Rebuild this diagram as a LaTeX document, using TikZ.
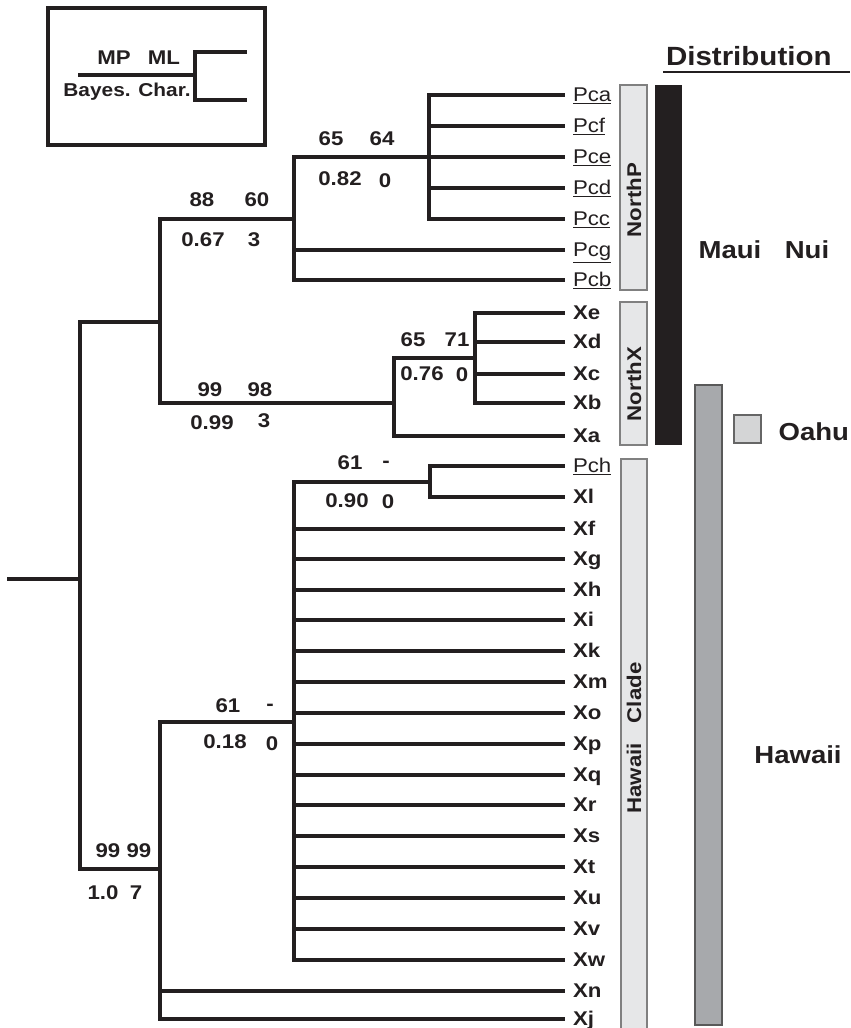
\documentclass[tikz,border=0pt]{standalone}
\usepackage{fontspec}
\setmainfont{Liberation Sans}[FakeStretch=1.12]
\usetikzlibrary{positioning}
\definecolor{ink}{RGB}{35,31,32}
\definecolor{cladegray}{RGB}{230,231,232}
\definecolor{islegray}{RGB}{167,169,172}
\definecolor{oahugray}{RGB}{212,213,214}

\begin{document}
\begin{tikzpicture}[x=0.02cm, y=-0.02cm,
  every node/.style={text=ink, font=\bfseries\fontsize{11.3}{13}\selectfont, inner sep=0pt, outer sep=0pt},
  branch/.style={draw=ink, line width=2pt},
  leaf/.style={anchor=west, inner xsep=0.16cm, text height=9pt, text depth=2pt},
  pcleaf/.style={leaf, font=\mdseries\fontsize{11.3}{13}\selectfont},
  cladebox/.style={draw=black!50, fill=cladegray, line width=0.8pt},
  bigtext/.style={font=\bfseries\fontsize{14}{16}\selectfont}
]
  \useasboundingbox (0,0) rectangle (850,1028);

  % key box
  \draw[branch] (48,8) rectangle (265,145);
  \coordinate (kroot) at (78,75);
  \coordinate (knode) at (195,75);
  \coordinate (kup)   at (247,52);
  \coordinate (kdown) at (247,100);
  \draw[branch] (kroot) -- (knode) |- (kup);
  \draw[branch] (knode) |- (kdown);
  \node[anchor=base] (kmp) at (114,64) {MP};
  \node[anchor=base] (kml) at (164,64) {ML};
  \node[anchor=base, font=\bfseries\fontsize{10.6}{12}\selectfont] (kbc) at (127,96) {Bayes. Char.};

  % internal nodes
  \coordinate (stub) at (7,579);
  \coordinate (root) at (80,579);
  \coordinate (nA)   at (160,322);
  \coordinate (nPc)  at (294,219);
  \coordinate (nPp)  at (429,157);
  \coordinate (nNX)  at (394,403);
  \coordinate (nXe)  at (475,358);
  \coordinate (nH)   at (160,869);
  \coordinate (nHp)  at (294,722);
  \coordinate (nPl)  at (430,482);

  \draw[branch] (stub) -- (root);
  \draw[branch] (root) |- (nA);
  \draw[branch] (root) |- (nH);
  \draw[branch] (nA) |- (nPc);
  \draw[branch] (nA) |- (nNX);
  \draw[branch] (nPc) |- (nPp);
  \draw[branch] (nNX) |- (nXe);
  \draw[branch] (nH) |- (nHp);
  \draw[branch] (nHp) |- (nPl);

  % leaves
  \foreach \lab/\yy in {Pca/95, Pcf/126, Pce/157, Pcd/188, Pcc/219}{
    \node[pcleaf] (\lab) at (565,\yy) {\underline{\lab}};
    \draw[branch] (nPp) |- (\lab);
  }
  \foreach \lab/\yy in {Pcg/250, Pcb/280}{
    \node[pcleaf] (\lab) at (565,\yy) {\underline{\lab}};
    \draw[branch] (nPc) |- (\lab);
  }
  \foreach \lab/\yy in {Xe/313, Xd/342, Xc/374, Xb/403}{
    \node[leaf] (\lab) at (565,\yy) {\lab};
    \draw[branch] (nXe) |- (\lab);
  }
  \node[leaf] (Xa) at (565,436) {Xa};
  \draw[branch] (nNX) |- (Xa);
  \node[pcleaf] (Pch) at (565,466) {\underline{Pch}};
  \node[leaf] (Xl) at (565,497) {Xl};
  \draw[branch] (nPl) |- (Pch);
  \draw[branch] (nPl) |- (Xl);
  \foreach \lab/\yy in {Xf/529, Xg/559, Xh/590, Xi/620, Xk/651, Xm/682, Xo/713,
      Xp/744, Xq/775, Xr/805, Xs/836, Xt/867, Xu/898, Xv/929, Xw/960}{
    \node[leaf] (\lab) at (565,\yy) {\lab};
    \draw[branch] (nHp) |- (\lab);
  }
  \foreach \lab/\yy in {Xn/991, Xj/1019}{
    \node[leaf] (\lab) at (565,\yy) {\lab};
    \draw[branch] (nH) |- (\lab);
  }

  % support values (MP ML / Bayes. Char.)
  \node (mpPc) at (202,200) {88};   \node (mlPc) at (257,200) {60};
  \node (byPc) at (203,240) {0.67}; \node (chPc) at (254,240) {3};
  \node (mpPp) at (331,139) {65};   \node (mlPp) at (382,139) {64};
  \node (byPp) at (340,179) {0.82}; \node (chPp) at (385,181) {0};
  \node (mpNX) at (210,390) {99};   \node (mlNX) at (260,390) {98};
  \node (byNX) at (212,423) {0.99}; \node (chNX) at (264,421) {3};
  \node (mpXe) at (413,340) {65};   \node (mlXe) at (457,340) {71};
  \node (byXe) at (422,374) {0.76}; \node (chXe) at (462,375) {0};
  \node (mpPl) at (350,463) {61};   \node (mlPl) at (386,464) {-};
  \node (byPl) at (347,501) {0.90}; \node (chPl) at (388,502) {0};
  \node (mpHp) at (228,706) {61};   \node (mlHp) at (270,707) {-};
  \node (byHp) at (225,742) {0.18}; \node (chHp) at (272,744) {0};
  \node (mpH)  at (108,851) {99};   \node (mlH)  at (139,851) {99};
  \node (byH)  at (103,893) {1.0};  \node (chH)  at (136,893) {7};

  % clade boxes
  \draw[cladebox] (620,85) rectangle (647,290);
  \node[rotate=90] (northP) at (634,200) {NorthP};
  \draw[cladebox] (620,302) rectangle (647,445);
  \node[rotate=90] (northX) at (634,384) {NorthX};
  \draw[cladebox] (621,459) rectangle (647,1040);
  \node[rotate=90] (hawClade) at (634,738) {Hawaii\hspace{0.4cm}Clade};

  % distribution
  \node[bigtext, font=\bfseries\fontsize{15}{17}\selectfont, anchor=base west] (dist) at (666,65) {Distribution};
  \coordinate (ulL) at (663,72);
  \coordinate (ulR) at (850,72);
  \draw[draw=ink, line width=1.4pt] (ulL) -- (ulR);
  \fill[ink] (655,85) rectangle (682,445);
  \draw[fill=islegray, draw=black!65, line width=0.8pt] (695,385) rectangle (722,1025);
  \draw[fill=oahugray, draw=black!60, line width=0.8pt] (734,415) rectangle (761,443);
  \node[bigtext] (maui) at (730,250) {Maui};
  \node[bigtext] (nui)  at (807,250) {Nui};
  \node[bigtext, anchor=east] (oahu) at (849,432) {Oahu};
  \node[bigtext] (hawaii) at (798,755) {Hawaii};
\end{tikzpicture}
\end{document}
